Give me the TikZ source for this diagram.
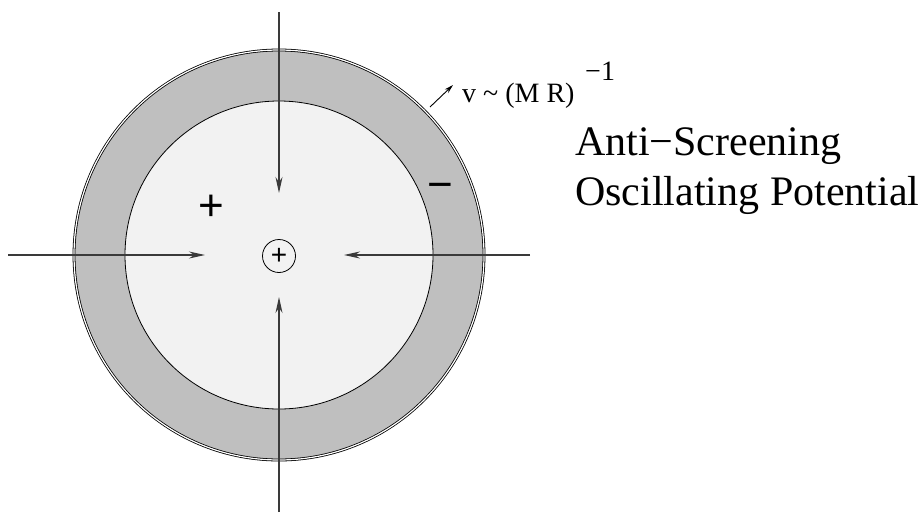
\documentclass[tikz,border=0pt]{standalone}
\usepackage{fontspec}
\setmainfont{Liberation Serif}
\newfontfamily\sansf{Liberation Sans}
\usetikzlibrary{arrows.meta}
\definecolor{ringgray}{HTML}{BFBFBF}
\definecolor{innergray}{HTML}{F2F2F2}
\definecolor{axisgray}{HTML}{3A3A3A}
\tikzset{
  axisline/.style={draw=axisgray, line width=1.1pt, -{Stealth[length=16pt,width=7pt]}},
  ptr/.style={draw=black, line width=0.9pt, -{Stealth[length=9pt,width=5pt]}},
  bigsign/.style={font=\sansf\fontsize{44}{44}\selectfont, inner sep=0pt},
  lbl/.style={font=\fontsize{28}{32}\selectfont, inner sep=0pt, anchor=base west},
  title/.style={font=\fontsize{42}{47}\selectfont, inner sep=0pt, anchor=base west}
}
\begin{document}
\begin{tikzpicture}[x=1pt,y=-1pt]
\useasboundingbox (0,0) rectangle (923,512);
% ring and inner disc
\fill[ringgray] (279,255) circle[radius=205pt];
\draw[double, double distance=1.2pt, line width=0.8pt] (279,255) circle[radius=205pt];
\draw[fill=innergray, line width=0.8pt] (279,255) circle[radius=154pt];
% centre charge
\node[draw, circle, line width=0.8pt, minimum size=33pt, inner sep=0pt,
      font=\sansf\fontsize{28}{28}\selectfont] (c) at (279,256) {+};
% axes
\coordinate (t1) at (279,12);  \coordinate (t2) at (279,193);
\coordinate (b1) at (279,512); \coordinate (b2) at (279,297);
\coordinate (l1) at (8,255);   \coordinate (l2) at (205,255);
\coordinate (r1) at (530,255); \coordinate (r2) at (344,255);
\draw[axisline] (t1) -- (t2);
\draw[axisline] (b1) -- (b2);
\draw[axisline] (l1) -- (l2);
\draw[axisline] (r1) -- (r2);
% signs
\node[bigsign] (plus) at (211,208) {+};
\node[bigsign] (minus) at (440,191) {−};
% velocity label
\coordinate (a1) at (430,107); \coordinate (a2) at (453,85);
\draw[ptr] (a1) -- (a2);
\node[lbl] (v) at (462,102) {v\hspace{7pt}\textasciitilde\hspace{7pt}(M R)};
\node[lbl] (exp) at (585,80) {−1};
% title
\node[title] (t) at (575,155) {Anti−Screening};
\node[title] (o) at (575,205) {Oscillating Potential};
\end{tikzpicture}
\end{document}
